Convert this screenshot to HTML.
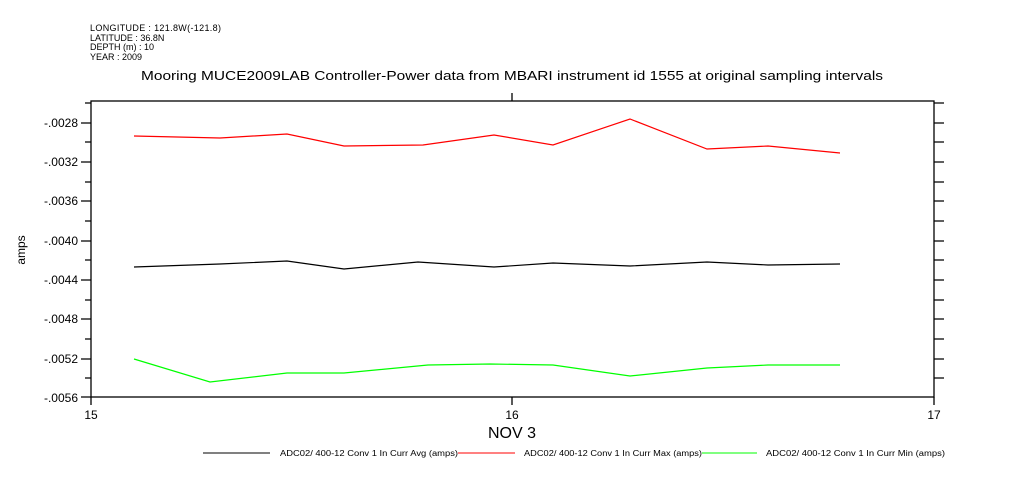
<!DOCTYPE html>
<html><head><style>body{margin:0;background:#fff}svg{display:block}</style></head><body>
<svg width="1009" height="504" xmlns="http://www.w3.org/2000/svg" font-family="Liberation Sans, sans-serif">
<rect width="1009" height="504" fill="#fff"/>
<g font-size="9" fill="#000">
<text x="90" y="31" textLength="131">LONGITUDE : 121.8W(-121.8)</text>
<text x="90" y="41">LATITUDE : 36.8N</text>
<text x="90" y="50">DEPTH (m) : 10</text>
<text x="90" y="60">YEAR : 2009</text>
</g>
<text x="141" y="80" font-size="13" textLength="742" lengthAdjust="spacingAndGlyphs">Mooring MUCE2009LAB Controller-Power data from MBARI instrument id 1555 at original sampling intervals</text>
<g stroke="#000" stroke-width="1.3" fill="none">
<rect x="91" y="101" width="843" height="296"/>
<line x1="512" y1="93" x2="512" y2="101"/>
<line x1="512" y1="397" x2="512" y2="405"/>
<line x1="91" y1="397" x2="91" y2="405"/>
<line x1="934" y1="397" x2="934" y2="405"/>
<path d="M81 123H91M81 162H91M81 201H91M81 241H91M81 280H91M81 319H91M81 359H91M81 397H91M85 142H91M85 182H91M85 221H91M85 260H91M85 300H91M85 339H91M85 378H91M85 103H91"/>
<path d="M934 123H944M934 162H944M934 201H944M934 241H944M934 280H944M934 319H944M934 359H944M934 142H944M934 182H944M934 221H944M934 260H944M934 300H944M934 339H944M934 378H944M934 103H944"/>
</g>
<g font-size="12" text-anchor="end">
<text x="78" y="127">-.0028</text><text x="78" y="166">-.0032</text><text x="78" y="205">-.0036</text><text x="78" y="245">-.0040</text><text x="78" y="284">-.0044</text><text x="78" y="323">-.0048</text><text x="78" y="363">-.0052</text><text x="78" y="402">-.0056</text>
</g>
<text x="25" y="250" font-size="12" text-anchor="middle" transform="rotate(-90 25 250)">amps</text>
<g font-size="12" text-anchor="middle"><text x="91" y="419">15</text><text x="512" y="419">16</text><text x="934" y="419">17</text></g>
<text x="512" y="438" font-size="16" text-anchor="middle">NOV  3</text>
<polyline fill="none" stroke="#f00" stroke-width="1.2" points="134,136 220,138 287,134 344,146 423,145 494,135 553,145 630,119 707,149 768,146 840,153"/>
<polyline fill="none" stroke="#000" stroke-width="1.2" points="134,267 220,264 287,261 344,269 418,262 494,267 553,263 630,266 707,262 768,265 840,264"/>
<polyline fill="none" stroke="#0f0" stroke-width="1.2" points="134,359 210,382 287,373 344,373 428,365 490,364 553,365 630,376 707,368 768,365 840,365"/>
<g font-size="8">
<line x1="203" y1="453" x2="270" y2="453" stroke="#000"/>
<text x="280" y="456" textLength="178" lengthAdjust="spacingAndGlyphs">ADC02/ 400-12 Conv 1 In Curr Avg (amps)</text>
<line x1="458" y1="453" x2="515" y2="453" stroke="#f00"/>
<text x="524" y="456" textLength="178" lengthAdjust="spacingAndGlyphs">ADC02/ 400-12 Conv 1 In Curr Max (amps)</text>
<line x1="702" y1="453" x2="757" y2="453" stroke="#0f0"/>
<text x="766" y="456" textLength="179" lengthAdjust="spacingAndGlyphs">ADC02/ 400-12 Conv 1 In Curr Min (amps)</text>
</g>
</svg>
</body></html>
